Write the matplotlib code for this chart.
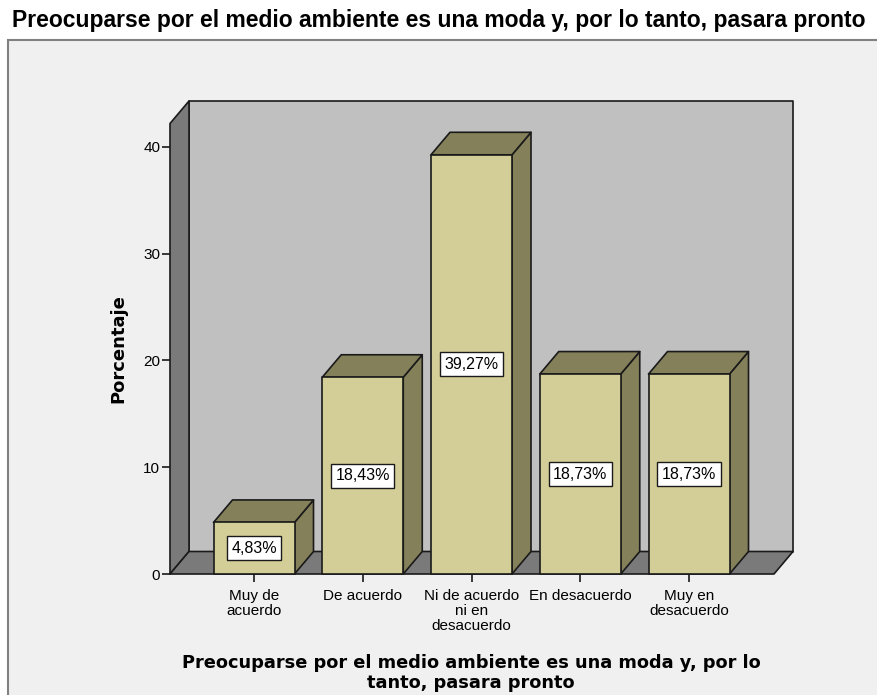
"""
Gráfico de barras 3D estilo SPSS - medio ambiente
"""
import matplotlib
matplotlib.use("Agg")
import matplotlib.pyplot as plt
import matplotlib.patches as patches

# datos
categorias = ["Muy de\nacuerdo", "De acuerdo", "Ni de acuerdo\nni en\ndesacuerdo",
              "En desacuerdo", "Muy en\ndesacuerdo"]
porcentajes = [4.83, 18.43, 39.27, 18.73, 18.73]
yticks = [0, 10, 20, 30, 40]

titulo = "Preocuparse por el medio ambiente es una moda y, por lo tanto, pasara pronto"
xlabel = "Preocuparse por el medio ambiente es una moda y, por lo\ntanto, pasara pronto"
ylabel = "Porcentaje"

# colores
C_FONDO = "#f0f0f0"
C_PARED = "#c0c0c0"
C_LADO = "#7a7a7a"
C_FRENTE = "#d3ce97"
C_SOMBRA = "#84805a"
C_BORDE = "#1a1a1a"

W, H = 877, 695
fig = plt.figure(figsize=(W / 100, H / 100), dpi=100)
fig.patch.set_facecolor("white")

# recuadro exterior (detrás de los ejes)
fig.patches.append(patches.Rectangle((8 / W, -0.05), 1.1, (H - 40) / H + 0.05,
                                     transform=fig.transFigure, facecolor=C_FONDO,
                                     edgecolor="#808080", linewidth=1.5, zorder=-5))

# área de trazado en píxeles
px_l, px_r, px_b, px_t = 170, 793, 574, 101
ax = fig.add_axes([px_l / W, (H - px_b) / H, (px_r - px_l) / W, (px_b - px_t) / H])
ax.set_facecolor("none")
ax.set_zorder(2)

px_cat = 108.75          # px por categoría
px_unit = 10.675         # px por 1%
xmin = -84 / px_cat
xmax = xmin + (px_r - px_l) / px_cat
ytop = (px_b - px_t) / px_unit
dx = 19 / px_cat         # profundidad
dy = 22.5 / px_unit
hw = 40.5 / px_cat       # media anchura de la barra

ax.set_xlim(xmin, xmax)
ax.set_ylim(0, ytop)

kw = dict(edgecolor=C_BORDE, linewidth=1.2, joinstyle="round", clip_on=False)

# pared del fondo
ax.add_patch(patches.Polygon([(xmin + dx, dy), (xmax, dy), (xmax, ytop), (xmin + dx, ytop)],
                             facecolor=C_PARED, **kw))
# pared lateral
ax.add_patch(patches.Polygon([(xmin, 0), (xmin + dx, dy), (xmin + dx, ytop), (xmin, ytop - dy)],
                             facecolor=C_LADO, **kw))
# suelo
ax.add_patch(patches.Polygon([(xmin, 0), (xmax - dx, 0), (xmax, dy), (xmin + dx, dy)],
                             facecolor=C_LADO, **kw))

# barras
for i, v in enumerate(porcentajes):
    x0, x1 = i - hw, i + hw
    ax.add_patch(patches.Polygon([(x1, 0), (x1 + dx, dy), (x1 + dx, v + dy), (x1, v)],
                                 facecolor=C_SOMBRA, **kw))
    ax.add_patch(patches.Polygon([(x0, v), (x1, v), (x1 + dx, v + dy), (x0 + dx, v + dy)],
                                 facecolor=C_SOMBRA, **kw))
    ax.add_patch(patches.Rectangle((x0, 0), 2 * hw, v, facecolor=C_FRENTE, **kw))
    etiqueta = f"{v:.2f}".replace(".", ",") + "%"
    ax.text(i, v / 2, etiqueta, ha="center", va="center", fontsize=11.5,
            family="Liberation Sans", color="black",
            bbox=dict(boxstyle="square,pad=0.28", facecolor="white",
                      edgecolor=C_BORDE, linewidth=1.0))

# ejes
for s in ax.spines.values():
    s.set_visible(False)
ax.set_xticks(range(len(categorias)))
ax.set_xticklabels(categorias, fontsize=11, family="Liberation Sans", linespacing=1.08)
ax.set_yticks(yticks)
ax.set_yticklabels([str(t) for t in yticks], fontsize=11, family="Liberation Sans")
ax.tick_params(axis="both", length=6, width=1.2, color=C_BORDE)
ax.tick_params(axis="x", pad=5)
ax.tick_params(axis="y", pad=1)

# textos
fig.text(0.5, 1 - 20 / H, titulo, ha="center", va="center", fontsize=16.5,
         fontweight="bold", family="Liberation Sans")
fig.text(471 / W, 1 - 673 / H, xlabel, ha="center", va="center", fontsize=12.8,
         fontweight="bold", family="DejaVu Sans", linespacing=1.2)
fig.text(118 / W, 1 - 349 / H, ylabel, ha="center", va="center", rotation=90,
         fontsize=13, fontweight="bold", family="DejaVu Sans")

plt.savefig("out.png", dpi=100)
plt.close()
